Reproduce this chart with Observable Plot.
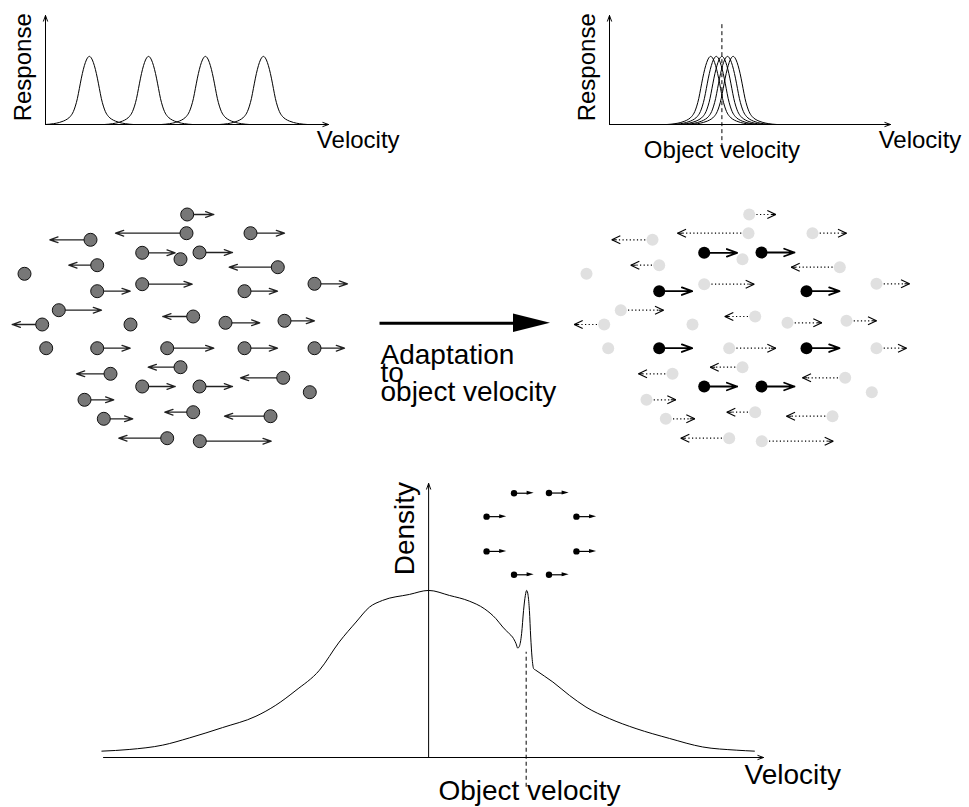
<!DOCTYPE html>
<html>
<head>
<meta charset="utf-8">
<script src="https://cdn.jsdelivr.net/npm/d3@7"></script>
<script src="https://cdn.jsdelivr.net/npm/@observablehq/plot@0.6"></script>
<style>
  html, body { margin: 0; padding: 0; background: #fff; overflow: hidden; }
  #chart { position: relative; width: 969px; height: 807px; }
  #chart svg { position: absolute; left: 0; top: 0; }
</style>
</head>
<body>
<div id="chart"></div>
<script>
const W = 969, H = 807;
const FONT = "Liberation Sans, Arial, Helvetica, sans-serif";

// ---------- Top panels: velocity tuning curves (velocity units 0..100, response peak = 1) ----------
const tuningOffset   = [-15.5, -12.7, -10.6, -9.2, -7.8, -6.7, -5.65, -4.95, -4.24, -3.53, -2.83, -2.12, -1.41, -0.71, 0,
                        0.71, 1.41, 2.12, 2.83, 3.53, 4.24, 4.95, 5.65, 6.7, 7.8, 9.2, 10.6, 12.7, 15.5];
const tuningResponse = [0, 0.012, 0.03, 0.05, 0.08, 0.12, 0.19, 0.27, 0.38, 0.53, 0.68, 0.81, 0.91, 0.975, 1,
                        0.975, 0.91, 0.81, 0.68, 0.53, 0.38, 0.27, 0.19, 0.12, 0.08, 0.05, 0.03, 0.012, 0];
const preferredBefore = [15.5, 36.4, 56.5, 77.0];     // before adaptation
const preferredAfter  = [36, 38, 40, 42, 44];         // after adaptation
const objectVelocityTop = 40;

// ---------- Middle: moving dots (field units), velocity as horizontal displacement ----------
const dotX  = [186.7, 186, 250, 90, 141.7, 180, 199, 96.7, 24, 277.3, 141.7, 96.7, 244, 314, 58.3, 41.7, 130, 192.7, 225,
               284, 45.7, 96.7, 166.7, 244, 314, 180, 110, 282.7, 141.7, 199, 309.3, 84, 192.7, 270, 103.3, 166.7, 199.3];
const dotY  = [214, 232.7, 232.7, 239.3, 252.3, 258.7, 252, 264.7, 273.3, 266.7, 283.7, 290.7, 290.7, 283.3, 309.7, 324,
               324, 316, 322.3, 320.3, 347.7, 347.7, 347.7, 347.7, 347.7, 366.7, 373.3, 377.3, 386, 386, 391.7, 399.3,
               411.7, 415.7, 418.3, 437.7, 440.7];
const dotVx = [26.6, -71, 34, -40.7, 33, 0, 33, -28.4, 0, -48.6, 50, 33, 33, 33, 42.7, -30, 0, -30.4, 34.3,
               30, 0, 33, 46.6, 33, 30, -32.3, -34, -42.7, 33, 33, 0, 29.3, -28.4, -46, 29, -48.4, 71.4];
const objectDotIndex = [4, 6, 11, 12, 21, 23, 28, 29];   // dots that belong to the moving object

// ---------- Bottom: velocity density after adaptation ----------
const densityV = [-10.05, -9.21, -8.18, -7.36, -6.34, -5.31, -4.70, -4.08, -3.36, -2.75, -2.23, -1.82, -1.42, -0.59, 0,
                  0.64, 1.25, 1.71, 2.07, 2.28, 2.48, 2.58, 2.69, 2.74, 2.79, 2.86, 2.92, 2.975, 3.015, 3.06, 3.10,
                  3.14, 3.18, 3.23, 3.30, 3.82, 4.33, 4.84, 5.56, 6.38, 7.41, 8.43, 9.46, 10.02];
const densityD = [0.038, 0.048, 0.074, 0.117, 0.179, 0.247, 0.313, 0.402, 0.522, 0.691, 0.811, 0.900, 0.940, 0.976, 1.0,
                  0.970, 0.936, 0.891, 0.831, 0.781, 0.741, 0.721, 0.681, 0.655, 0.665, 0.741, 0.880, 0.970, 1.0, 0.970,
                  0.880, 0.721, 0.601, 0.532, 0.522, 0.452, 0.372, 0.302, 0.233, 0.173, 0.114, 0.063, 0.044, 0.038];
const objectVelocityBottom = 3;

const labels = {velocity: "Velocity", response: "Response", density: "Density",
                object: "Object velocity", adapt: ["Adaptation", "to", "object velocity"]};

// ---------- build tables ----------
function tuningRows(peaks) {
  const rows = [];
  peaks.forEach((p, k) => tuningOffset.forEach((o, i) => rows.push({curve: k, v: p + o, r: tuningResponse[i]})));
  return rows;
}
const axisArrowsTop = [{x1: 0, y1: 0, x2: 100, y2: 0}, {x1: 0, y1: 0, x2: 0, y2: 1.6}];
const arrowStyle = {x1: "x1", y1: "y1", x2: "x2", y2: "y2", stroke: "#000", strokeWidth: 1, headLength: 9, headAngle: 40};

function topPanel(marginLeft, marginRight, peaks, withObject) {
  const marks = [
    Plot.arrow(axisArrowsTop, arrowStyle),
    Plot.line(tuningRows(peaks), {x: "v", y: "r", z: "curve", curve: "monotone-x", stroke: "#000", strokeWidth: 1}),
    Plot.text([labels.velocity], {x: 110.5, y: -0.35, text: d => d, lineAnchor: "bottom", fontSize: 24, fontFamily: FONT}),
    Plot.text([labels.response], {x: -8, y: 0.84, text: d => d, rotate: -90, fontSize: 24, fontFamily: FONT})
  ];
  if (withObject) {
    marks.push(Plot.ruleX([objectVelocityTop], {y1: -0.34, y2: 1.5, stroke: "#000", strokeWidth: 1, strokeDasharray: "4,3"}));
    marks.push(Plot.text([labels.object], {x: objectVelocityTop, y: -0.49, text: d => d, lineAnchor: "bottom", fontSize: 24, fontFamily: FONT}));
  }
  return Plot.plot({
    width: W, height: H, marginLeft, marginRight, marginTop: 15, marginBottom: 683,
    x: {domain: [0, 100], axis: null}, y: {domain: [0, 1.6], axis: null},
    style: {background: "transparent", overflow: "visible", fontFamily: FONT},
    marks
  });
}

const panelA = topPanel(45, 641, preferredBefore, false);
const panelB = topPanel(609, 79, preferredAfter, true);

// bottom panel
const density = densityV.map((v, i) => ({v, d: densityD[i]}));
const panelD = Plot.plot({
  width: W, height: H, marginLeft: 103, marginRight: 206, marginTop: 483, marginBottom: 50,
  x: {domain: [-10, 10.3], axis: null}, y: {domain: [0, 1.64], axis: null},
  style: {background: "transparent", overflow: "visible", fontFamily: FONT},
  marks: [
    Plot.arrow([{x1: -10, y1: 0, x2: 10.3, y2: 0}, {x1: 0, y1: 0, x2: 0, y2: 1.64}], arrowStyle),
    Plot.line(density, {x: "v", y: "d", curve: "monotone-x", stroke: "#000", strokeWidth: 1}),
    Plot.ruleX([objectVelocityBottom], {y1: -0.178, y2: 0.63, stroke: "#000", strokeWidth: 1, strokeDasharray: "4,3"}),
    Plot.text([labels.velocity], {x: 11.2, y: -0.156, text: d => d, lineAnchor: "bottom", fontSize: 28, fontFamily: FONT}),
    Plot.text([labels.object], {x: 3.1, y: -0.257, text: d => d, lineAnchor: "bottom", fontSize: 28, fontFamily: FONT}),
    Plot.text([labels.density], {x: -0.72, y: 1.37, text: d => d, rotate: -90, fontSize: 28, fontFamily: FONT})
  ]
});

// middle panel (field units = page units)
const dots = dotX.map((x, i) => ({x, y: dotY[i], vx: dotVx[i], obj: objectDotIndex.includes(i)}));
const moving = dots.filter(d => d.vx !== 0);
const objDots = dots.filter(d => d.obj);
const bgMoving = moving.filter(d => !d.obj);
const cloudShift = 562;          // right cloud = same scene after adaptation
const headL = 8.5, headW = 4;    // chevron of the dotted arrows
const sx = d => d.x + cloudShift;
const tip = d => sx(d) + d.vx;
const dir = d => Math.sign(d.vx);
const wings = bgMoving.flatMap(d => [
  {x1: tip(d), y1: d.y, x2: tip(d) - dir(d) * headL, y2: d.y - headW},
  {x1: tip(d), y1: d.y, x2: tip(d) - dir(d) * headL, y2: d.y + headW},
  {x1: tip(d), y1: d.y, x2: tip(d) - dir(d) * 5, y2: d.y}
]);
const objCx = d3.mean(objDots, d => d.x), objCy = d3.mean(objDots, d => d.y);
const ringScale = 0.61, ringCx = 531, ringCy = 533.5;
const ring = objDots.map(d => ({x: ringCx + (d.x - objCx) * ringScale, y: ringCy + (d.y - objCy) * ringScale, vx: d.vx * ringScale}));
const ringHeads = ring.flatMap((d, i) => [
  {id: i, x: d.x + d.vx - 7, y1: d.y - 2, y2: d.y + 2},
  {id: i, x: d.x + d.vx, y1: d.y, y2: d.y}
]);
const bigArrow = {x1: 379, x2: 550, y: 322.7, head: 37, half: 9.2};
const bigHead = [
  {x: bigArrow.x2 - bigArrow.head, y1: bigArrow.y - bigArrow.half, y2: bigArrow.y + bigArrow.half},
  {x: bigArrow.x2, y1: bigArrow.y, y2: bigArrow.y}
];
const adaptLines = labels.adapt.map((t, i) => ({t, line: i}));

const panelC = Plot.plot({
  width: W, height: H, margin: 0,
  x: {domain: [0, W], range: [0, W], axis: null},
  y: {domain: [0, H], range: [0, H], axis: null},
  style: {background: "transparent", overflow: "visible", fontFamily: FONT},
  marks: [
    // left cloud
    Plot.arrow(moving, {x1: "x", y1: "y", x2: d => d.x + d.vx, y2: "y", stroke: "#222", strokeWidth: 1.3, headLength: 10, headAngle: 38}),
    Plot.dot(dots, {x: "x", y: "y", r: 6.5, fill: "#777", stroke: "#111", strokeWidth: 1}),
    // right cloud: background dots with dotted arrows
    Plot.link(bgMoving, {x1: sx, y1: "y", x2: d => tip(d) - dir(d) * 5, y2: "y", stroke: "#000", strokeWidth: 1.2, strokeDasharray: "1.2,2.4"}),
    Plot.link(wings, {x1: "x1", y1: "y1", x2: "x2", y2: "y2", stroke: "#000", strokeWidth: 1.1}),
    Plot.arrow(objDots, {x1: sx, y1: "y", x2: tip, y2: "y", stroke: "#000", strokeWidth: 1.8, headLength: 10, headAngle: 40}),
    Plot.dot(dots.filter(d => !d.obj), {x: sx, y: "y", r: 6, fill: "#e0e0e0"}),
    Plot.dot(objDots, {x: sx, y: "y", r: 6, fill: "#000"}),
    // adaptation arrow + text
    Plot.link([bigArrow], {x1: "x1", x2: d => d.x2 - d.head + 2, y1: "y", y2: "y", stroke: "#000", strokeWidth: 3}),
    Plot.areaY(bigHead, {x: "x", y1: "y1", y2: "y2", fill: "#000"}),
    Plot.text(adaptLines, {x: 380, y: d => 363.3 + d.line * 18.35, text: "t", textAnchor: "start", lineAnchor: "bottom", fontSize: 28, fontFamily: FONT}),
    // object ring above the density spike
    Plot.link(ring, {x1: "x", y1: "y", x2: d => d.x + d.vx - 5, y2: "y", stroke: "#000", strokeWidth: 1.2}),
    Plot.areaY(ringHeads, {x: "x", y1: "y1", y2: "y2", z: "id", fill: "#000"}),
    Plot.dot(ring, {x: "x", y: "y", r: 3.2, fill: "#000"})
  ]
});

const chart = document.getElementById("chart");
[panelA, panelB, panelD, panelC].forEach(s => chart.appendChild(s));
</script>
</body>
</html>
